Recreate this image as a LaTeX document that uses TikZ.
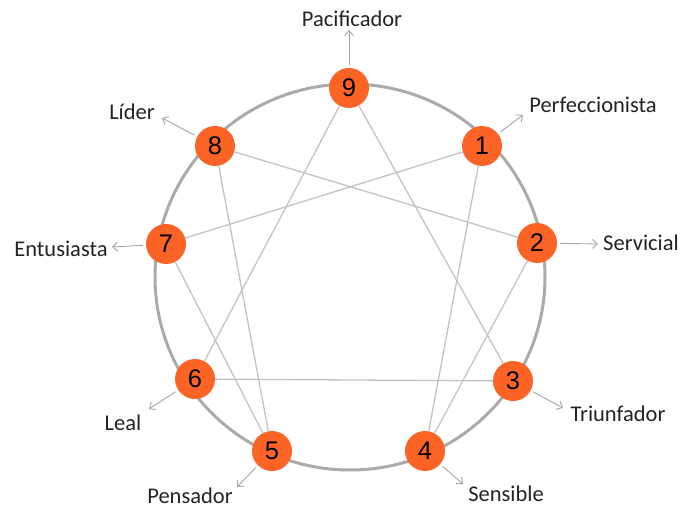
\documentclass[tikz,border=0pt]{standalone}
\usepackage{fontspec}
\setmainfont{Carlito}
\newfontfamily\numfont{Liberation Sans}
\usetikzlibrary{arrows.meta}
\definecolor{enneaorange}{RGB}{252,100,38}
\definecolor{ringgray}{RGB}{170,170,170}
\definecolor{chordgray}{RGB}{195,195,195}
\definecolor{pointergray}{RGB}{165,165,165}
\definecolor{labelgray}{RGB}{35,35,35}

\begin{document}
\begin{tikzpicture}[x=1pt,y=-1pt,
  num/.style={circle,fill=enneaorange,minimum size=40pt,inner sep=0pt,
    font=\numfont\fontsize{25.5}{26}\selectfont},
  typelabel/.style={inner sep=0pt,text=labelgray,font=\fontsize{22.5}{24}\selectfont},
  chord/.style={chordgray,line width=1.3pt},
  pointer/.style={pointergray,line width=0.9pt,shorten <=3pt,
    -{Straight Barb[length=5pt,width=9pt]}}]
\useasboundingbox (0,0) rectangle (684,510);
\draw[ringgray,line width=3pt] (350,277) ellipse [x radius=195pt,y radius=193pt];

% the nine points
\node[num] (n9) at (349,88)  {9};
\node[num] (n1) at (482,146) {1};
\node[num] (n2) at (537,243) {2};
\node[num] (n3) at (513,381) {3};
\node[num] (n4) at (425,451) {4};
\node[num] (n5) at (272,451) {5};
\node[num] (n6) at (195,379) {6};
\node[num] (n7) at (166,244) {7};
\node[num] (n8) at (215,146) {8};

% inner lines
\draw[chord] (n9) -- (n3) (n3) -- (n6) (n6) -- (n9);
\draw[chord] (n1) -- (n4) (n4) -- (n2) (n2) -- (n8)
  (n8) -- (n5) (n5) -- (n7) (n7) -- (n1);

% names
\node[typelabel] (l9) at (352,19)  {Pacificador};
\node[typelabel] (l1) at (593,105) {Perfeccionista};
\node[typelabel] (l2) at (641,243) {Servicial};
\node[typelabel] (l3) at (618,414) {Triunfador};
\node[typelabel] (l4) at (506,494) {Sensible};
\node[typelabel] (l5) at (190,496) {Pensador};
\node[typelabel] (l6) at (123,423) {Leal};
\node[typelabel] (l7) at (61,249)  {Entusiasta};
\node[typelabel] (l8) at (132,112) {Líder};

\coordinate (a9) at (349,30);
\coordinate (a1) at (523,115);
\coordinate (a2) at (598,244);
\coordinate (a3) at (563,408);
\coordinate (a4) at (463,484);
\coordinate (a5) at (237,487);
\coordinate (a6) at (149,409);
\coordinate (a7) at (112,247);
\coordinate (a8) at (162,118);
\foreach \i in {1,...,9}
  \draw[pointer] (n\i) -- (a\i);
\end{tikzpicture}
\end{document}
